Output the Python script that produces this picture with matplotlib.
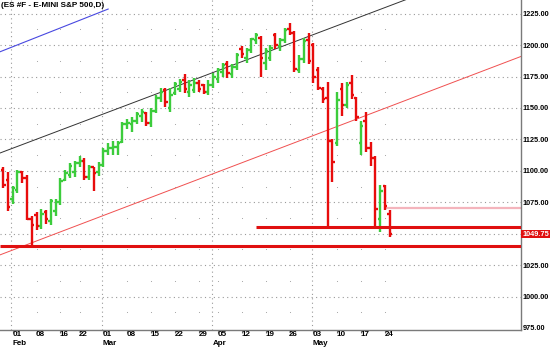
import numpy as np
import pandas as pd
import matplotlib
matplotlib.use("Agg")
import matplotlib.pyplot as plt
import matplotlib.transforms as mtransforms

plt.rcParams['font.family'] = ['Liberation Sans Narrow', 'Liberation Sans', 'DejaVu Sans']

# trading days shown (Feb 15 and Apr 2 closed)
dates = [d for d in pd.bdate_range('2010-01-28', '2010-05-25')
         if d.strftime('%Y-%m-%d') not in ('2010-02-15', '2010-04-02')]

# one row per week
opens = [1101, 1093,
         1078, 1085, 1099, 1094, 1062,
         1065, 1056, 1067, 1060, 1068,
         1075, 1093, 1097, 1099,
         1106, 1108, 1095, 1103, 1099,
         1105, 1116, 1118, 1119, 1123,
         1137, 1137, 1140, 1144, 1146,
         1138, 1148, 1158, 1164, 1150,
         1162, 1165, 1172, 1163, 1164,
         1170, 1168, 1163, 1168,
         1173, 1179, 1185, 1177, 1183,
         1197, 1190, 1196, 1204, 1206,
         1186, 1190, 1208, 1199, 1204,
         1213, 1210, 1180, 1189, 1204,
         1200, 1180, 1165, 1158, 1124,
         1122, 1165, 1152, 1170, 1158,
         1122, 1140, 1118, 1110, 1062,
         1088, 1066]
highs = [1103, 1099,
         1088, 1101, 1100, 1097, 1064,
         1067, 1070, 1069, 1078, 1078,
         1094, 1101, 1106, 1108,
         1112, 1110, 1105, 1103, 1107,
         1118, 1122, 1124, 1124, 1139,
         1141, 1143, 1147, 1149, 1147,
         1150, 1160, 1166, 1166, 1166,
         1171, 1173, 1177, 1172, 1174,
         1172, 1169, 1172, 1178,
         1182, 1186, 1187, 1185, 1194,
         1199, 1198, 1206, 1210, 1207,
         1198, 1200, 1210, 1206, 1214,
         1218, 1211, 1192, 1206, 1210,
         1202, 1183, 1167, 1171, 1125,
         1163, 1170, 1171, 1176, 1159,
         1140, 1147, 1123, 1112, 1089,
         1089, 1069]
lows = [1086, 1068,
        1074, 1082, 1090, 1061, 1040,
        1053, 1054, 1058, 1057, 1064,
        1073, 1092, 1094, 1095,
        1103, 1093, 1093, 1084, 1096,
        1103, 1113, 1113, 1113, 1122,
        1133, 1131, 1137, 1139, 1136,
        1135, 1146, 1155, 1151, 1147,
        1160, 1163, 1162, 1159, 1162,
        1163, 1161, 1160, 1166,
        1170, 1175, 1174, 1174, 1180,
        1190, 1186, 1194, 1201, 1175,
        1180, 1187, 1197, 1195, 1202,
        1208, 1179, 1178, 1186, 1185,
        1170, 1164, 1154, 1055, 1091,
        1120, 1144, 1150, 1157, 1140,
        1113, 1115, 1104, 1055, 1051,
        1069, 1047]
closes = [1089, 1071,
          1086, 1099, 1094, 1062, 1057,
          1056, 1066, 1062, 1076, 1075,
          1092, 1098, 1104, 1106,
          1108, 1095, 1103, 1098, 1105,
          1116, 1118, 1119, 1122, 1137,
          1138, 1140, 1145, 1147, 1138,
          1148, 1158, 1163, 1155, 1160,
          1169, 1171, 1165, 1168, 1170,
          1165, 1163, 1168, 1175,
          1180, 1184, 1178, 1183, 1192,
          1193, 1196, 1205, 1208, 1190,
          1195, 1198, 1200, 1204, 1212,
          1210, 1181, 1189, 1203, 1187,
          1175, 1166, 1157, 1124, 1107,
          1156, 1152, 1168, 1160, 1143,
          1136, 1118, 1110, 1070, 1084,
          1072, 1049.75]

week_ticks = ['2010-02-01', '2010-02-08', '2010-02-16', '2010-02-22', '2010-03-01',
              '2010-03-08', '2010-03-15', '2010-03-22', '2010-03-29', '2010-04-05',
              '2010-04-12', '2010-04-19', '2010-04-26', '2010-05-03', '2010-05-10',
              '2010-05-17', '2010-05-24']
month_starts = ['2010-02-01', '2010-03-01', '2010-04-01', '2010-05-03']
month_names = ['Feb', 'Mar', 'Apr', 'May']

# drawn studies: (date, price) anchors
black_line = [('2010-02-01', 1118.0), ('2010-04-26', 1201.2)]
red_line = [('2010-02-01', 1037.0), ('2010-05-03', 1128.1)]
blue_line = [('2010-02-01', 1198.7), ('2010-03-02', 1228.7)]
support_low = 1040.0
support_mid, support_mid_from = 1055.0, '2010-04-15'
resist, resist_from = 1070.7, '2010-05-24'
last_price = 1049.75

idx = {d.strftime('%Y-%m-%d'): i for i, d in enumerate(dates)}
x = np.arange(len(dates))
o, h, l, c = map(np.array, (opens, highs, lows, closes))

fig = plt.figure(figsize=(5.5, 3.49), dpi=100)
ax = fig.add_axes([0, 19 / 349, 521 / 550, 330 / 349])
x0 = idx['2010-02-01'] - 2.66
x1 = idx['2010-02-01'] + 106.5
ax.set_xlim(x0, x1)
ax.set_ylim(973.4, 1235.9)

# grid
for p in range(1000, 1226, 25):
    ax.axhline(p, color='#9a9a9a', lw=0.8, ls=(0, (1, 3)), zorder=0)
for m in month_starts:
    ax.axvline(idx[m] - 0.3, color='#9a9a9a', lw=0.8, ls=(0, (1, 3)), zorder=0)
wk = [idx[w] for w in week_ticks if w not in month_starts]
gx, gy = np.meshgrid(wk, np.arange(987.5, 1236, 25))
ax.scatter(gx.ravel(), gy.ravel(), s=0.6, color='#a0a0a0', lw=0, zorder=0)

# studies
def line_xy(anchors):
    (da, pa), (db, pb) = anchors
    xa, xb = idx[da], idx[db]
    return xa, pa, (pb - pa) / (xb - xa)

xa, pa, k = line_xy(black_line)
ax.plot([x0, x1], [pa + k * (x0 - xa), pa + k * (x1 - xa)], color='#333333', lw=0.7, zorder=1)
xa, pa, k = line_xy(red_line)
ax.plot([x0, x1], [pa + k * (x0 - xa), pa + k * (x1 - xa)], color='#f05050', lw=0.7, zorder=1)
xa, pa, k = line_xy(blue_line)
xe = idx[blue_line[1][0]]
ax.plot([x0, xe], [pa + k * (x0 - xa), pa + k * (xe - xa)], color='#4848e0', lw=0.8, zorder=1)

ax.hlines(support_low, x0, x1, color='#e01010', lw=2.2, zorder=3)
ax.hlines(support_mid, idx[support_mid_from], x1, color='#e01010', lw=2.2, zorder=3)
ax.hlines(resist, idx[resist_from], x1, color='#f4b4bc', lw=1.6, zorder=1)

# OHLC bars
cols = np.where(c >= o, '#3ccc3c', '#e80c0c')
ax.vlines(x, l, h, colors=cols, lw=1.7, zorder=2)
ax.hlines(o, x - 0.5, x, colors=cols, lw=1.7, zorder=2)
ax.hlines(c, x, x + 0.5, colors=cols, lw=1.7, zorder=2)

# axes styling
for s in ('left', 'top'):
    ax.spines[s].set_visible(False)
for s in ('bottom', 'right'):
    ax.spines[s].set_color('#7a7a7a')
    ax.spines[s].set_linewidth(1.0)
ax.yaxis.tick_right()
ax.set_yticks(range(975, 1226, 25))
ax.set_yticklabels(['%.2f' % v for v in range(975, 1226, 25)],
                   fontsize=5.3, fontweight='bold')
ax.tick_params(axis='y', length=0, pad=1)
ax.set_xticks([idx[w] for w in week_ticks])
ax.set_xticklabels([])
ax.tick_params(axis='x', length=2, color='#7a7a7a')
tr = mtransforms.blended_transform_factory(ax.transData, fig.transFigure)
for w in week_ticks:
    ax.text(idx[w] - 0.1, 1 - 331 / 349, w[-2:], transform=tr, fontsize=5.8,
            fontweight='bold', ha='left', va='top')
for m, name in zip(month_starts, month_names):
    ax.text(idx[m] - 0.1, 1 - 340 / 349, name, transform=tr, fontsize=5.8,
            fontweight='bold', ha='left', va='top')

ax.text(1.002, last_price, '%.2f' % last_price,
        transform=mtransforms.blended_transform_factory(ax.transAxes, ax.transData),
        fontsize=5.3, fontweight='bold', color='white', ha='left', va='center',
        bbox=dict(boxstyle='square,pad=0.12', fc='#e01010', ec='none'), clip_on=False)

fig.text(0.002, 0.995, '(ES #F - E-MINI S&P 500,D)', fontsize=5.9, fontweight='bold',
         ha='left', va='top')

fig.savefig('out.png', dpi=100)
